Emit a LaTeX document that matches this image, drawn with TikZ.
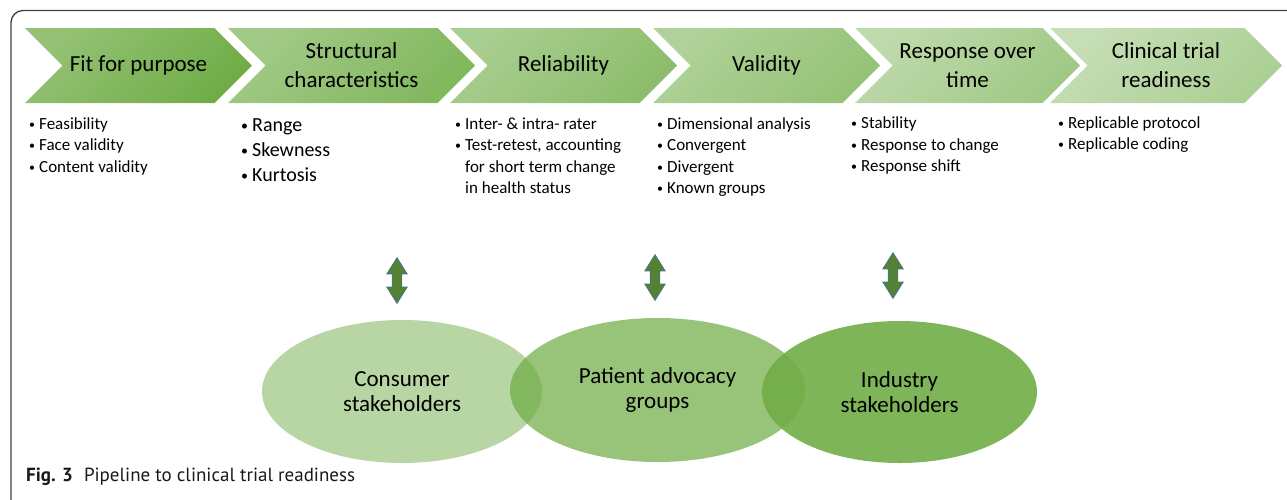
\documentclass[tikz,border=0pt]{standalone}
\usepackage{graphicx}
\usepackage{fontspec}
\setmainfont{Carlito}
\newfontfamily\capfont{PT Sans}
\usetikzlibrary{shapes.symbols,shapes.geometric,shapes.arrows}

\definecolor{accgreen}{RGB}{112,173,71}
\definecolor{arrowgreen}{RGB}{84,130,53}
\definecolor{arrowedge}{RGB}{65,113,156}
\definecolor{framegray}{RGB}{64,64,64}

% small bullet in a box of fixed width, and the indent of a wrapped line
\newcommand\bul[1][10pt]{\makebox[#1][l]{\raisebox{.7pt}{\scalebox{.7}{\textbullet}}}}
\newcommand\hang[1][10pt]{\hspace*{#1}}

\tikzset{
  chev/.style 2 args={signal, signal from=west, signal to=east,
    signal pointer angle=90, minimum height=75pt, inner sep=0pt,
    align=center, font=\fontsize{23}{29}\selectfont,
    top color=accgreen!#1!white, bottom color=accgreen!#2!white,
    shading angle=45},
  % lists sit on the baseline of their last line
  bullets/.style={anchor=base west, align=left, inner sep=0pt,
    font=\fontsize{17}{21.5}\selectfont},
  stake/.style={ellipse, fill=accgreen, text opacity=1, align=center,
    inner sep=0pt, font=\fontsize{23}{25}\selectfont},
  updown/.style={double arrow, rotate=90, fill=arrowgreen,
    draw=arrowedge, line width=.6pt, inner xsep=0pt, inner ysep=4.5pt,
    minimum height=46pt,
    double arrow head extend=5.5pt, double arrow tip angle=64},
}

\begin{document}
\begin{tikzpicture}[x=1pt,y=-1pt]
\clip (0,0) rectangle (1287,499);
\useasboundingbox (0,0) rectangle (1287,499);

% frame of the figure
\draw[framegray, line width=1.3pt, rounded corners=12pt]
  (1320,10.5) -- (11,10.5) -- (11,540);

% pipeline
\node[chev={75}{100}, minimum width=227pt] (fit) at (138.5,65.5) {Fit for purpose};
\node[chev={65}{88}, minimum width=247pt] (struct) at (351.5,65.5) {Structural\\characteristics};
\node[chev={60}{80}, minimum width=227pt] (rel) at (563.5,65.5) {Reliability};
\node[chev={55}{74}, minimum width=227pt] (val) at (766.5,65.5) {Validity};
\node[chev={45}{66}, minimum width=225pt] (resp) at (967.5,65.5) {Response over\\time};
\node[chev={40}{58}, minimum width=232pt] (clin) at (1166,65.5) {Clinical trial\\readiness};

% what each step covers
\node[bullets] (fitlist) at (29,172) {\bul Feasibility\\\bul Face validity\\\bul Content validity};
\node[bullets, font=\fontsize{20}{25}\selectfont] (structlist) at (241,181.5)
  {\bul[11pt]Range\\\bul[11pt]Skewness\\\bul[11pt]Kurtosis};
\node[bullets] (rellist) at (455,193.5) {\bul Inter- \& intra- rater\\\bul Test-retest, accounting\\
  \hang for short term change\\\hang in health status};
\node[bullets] (vallist) at (657,193.5) {\bul Dimensional analysis\\\bul Convergent\\\bul Divergent\\\bul Known groups};
\node[bullets] (resplist) at (851,171.5) {\bul Stability\\\bul Response to change\\\bul Response shift};
\node[bullets] (clinlist) at (1058,149.5) {\bul Replicable protocol\\\bul Replicable coding};

% stakeholders
\node[updown] (a1) at (397,280.5) {};
\node[updown] (a2) at (655,277.5) {};
\node[updown] (a3) at (893,275.5) {};

\node[stake, fill opacity=.5, minimum width=280pt, minimum height=143pt] (cons) at (402,391.5) {Consumer\\stakeholders};
\node[stake, fill opacity=.72, minimum width=295pt, minimum height=144pt] (pat) at (657.5,390) {Patient advocacy\\groups};
\node[stake, fill opacity=.9, minimum width=275pt, minimum height=142pt] (ind) at (899.5,392) {Industry\\stakeholders};

% caption
\node[anchor=base west, inner sep=0pt, text=black!90,
  font=\capfont\fontsize{19}{22}\selectfont] (cap) at (26,481.5)
  {\textbf{Fig. 3}\hspace{11pt}Pipeline to clinical trial readiness};
\end{tikzpicture}
\end{document}
